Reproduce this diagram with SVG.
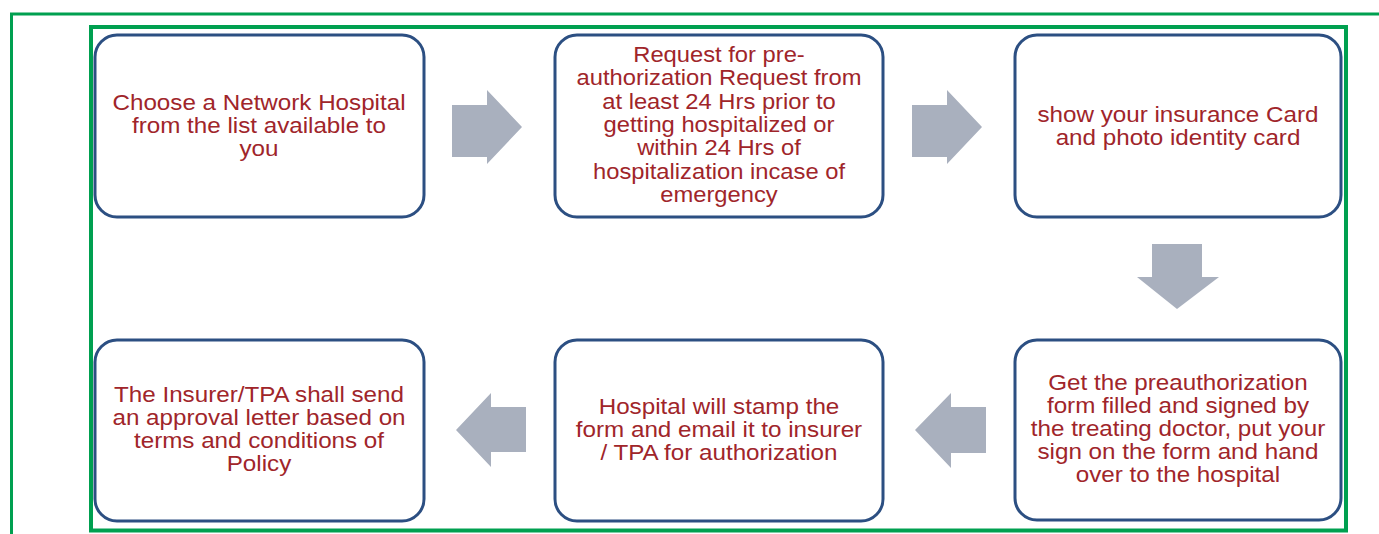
<svg xmlns="http://www.w3.org/2000/svg" width="1379" height="534" viewBox="0 0 1379 534">
  <style>
    .frame-outer { fill: none; stroke: #00a050; stroke-width: 3; }
    .frame-inner { fill: none; stroke: #00a050; stroke-width: 4; }
    .box { fill: #ffffff; stroke: #2c4f82; stroke-width: 3; }
    .arrow { fill: #a9b0be; }
    .label { font-family: "Liberation Sans", Arial, sans-serif; font-size: 22px; fill: #a0252a; text-anchor: middle; }
  </style>

  <rect width="1379" height="534" fill="#ffffff"/>

  <!-- frames -->
  <polyline class="frame-outer" points="11.5,534 11.5,14 1379,14"/>
  <rect class="frame-inner" x="91" y="27" width="1255" height="503.5"/>

  <!-- connectors -->
  <g id="connectors">
    <polygon class="arrow" points="452,105 487,105 487,90 522,127 487,164 487,157 452,157"/>
    <polygon class="arrow" points="912,105 947,105 947,90 982,127 947,164 947,157 912,157"/>
    <polygon class="arrow" points="1152,244 1202,244 1202,277 1219,277 1177,309 1137,277 1152,277"/>
    <polygon class="arrow" points="986,407 951,407 951,393 915,430 951,468 951,453 986,453"/>
    <polygon class="arrow" points="526,407 491,407 491,393 456,430 491,467 491,452 526,452"/>
  </g>

  <!-- step 1 -->
  <g id="step1">
    <rect class="box" x="95" y="35" width="329" height="182" rx="22"/>
    <g transform="translate(259 0) scale(1.1 1)">
      <text class="label" x="0" y="110">Choose a Network Hospital</text>
      <text class="label" x="0" y="133">from the list available to</text>
      <text class="label" x="0" y="156">you</text>
    </g>
  </g>

  <!-- step 2 -->
  <g id="step2">
    <rect class="box" x="555" y="35" width="328" height="182" rx="22"/>
    <g transform="translate(719 0) scale(1.08 1)">
      <text class="label" x="0" y="62">Request for pre-</text>
      <text class="label" x="0" y="85.5">authorization Request from</text>
      <text class="label" x="0" y="109">at least 24 Hrs prior to</text>
      <text class="label" x="0" y="132">getting hospitalized or</text>
      <text class="label" x="0" y="155.5">within 24 Hrs of</text>
      <text class="label" x="0" y="179">hospitalization incase of</text>
      <text class="label" x="0" y="202">emergency</text>
    </g>
  </g>

  <!-- step 3 -->
  <g id="step3">
    <rect class="box" x="1015" y="35" width="326" height="182" rx="22"/>
    <g transform="translate(1178 0) scale(1.1 1)">
      <text class="label" x="0" y="122.5">show your insurance Card</text>
      <text class="label" x="0" y="145.5">and photo identity card</text>
    </g>
  </g>

  <!-- step 4 -->
  <g id="step4">
    <rect class="box" x="1015" y="340" width="326" height="180" rx="22"/>
    <g transform="translate(1178 0) scale(1.1 1)">
      <text class="label" x="0" y="390">Get the preauthorization</text>
      <text class="label" x="0" y="413">form filled and signed by</text>
      <text class="label" x="0" y="436">the treating doctor, put your</text>
      <text class="label" x="0" y="459">sign on the form and hand</text>
      <text class="label" x="0" y="482">over to the hospital</text>
    </g>
  </g>

  <!-- step 5 -->
  <g id="step5">
    <rect class="box" x="555" y="340" width="328" height="181" rx="22"/>
    <g transform="translate(719 0) scale(1.1 1)">
      <text class="label" x="0" y="414">Hospital will stamp the</text>
      <text class="label" x="0" y="437">form and email it to insurer</text>
      <text class="label" x="0" y="460">/ TPA for authorization</text>
    </g>
  </g>

  <!-- step 6 -->
  <g id="step6">
    <rect class="box" x="95" y="340" width="329" height="181" rx="22"/>
    <g transform="translate(259 0) scale(1.1 1)">
      <text class="label" x="0" y="402">The Insurer/TPA shall send</text>
      <text class="label" x="0" y="425">an approval letter based on</text>
      <text class="label" x="0" y="448">terms and conditions of</text>
      <text class="label" x="0" y="471">Policy</text>
    </g>
  </g>
</svg>
